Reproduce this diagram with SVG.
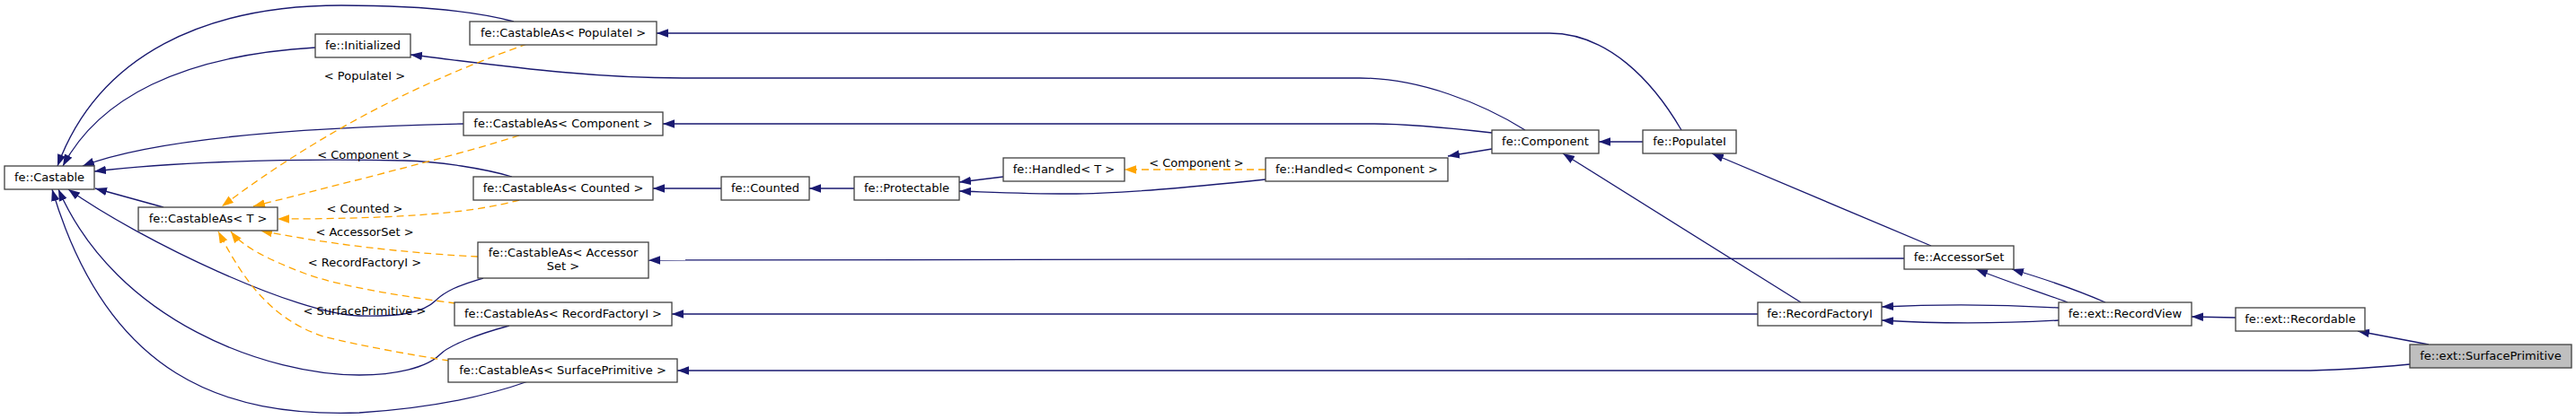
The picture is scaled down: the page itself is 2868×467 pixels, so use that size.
<svg xmlns="http://www.w3.org/2000/svg" width="2868" height="467" viewBox="0 0 2868 467">
<style>
.n rect{fill:#ffffff;stroke:#404040;stroke-width:1.3}
.n.sel rect{fill:#bfbfbf}
text{font-family:"DejaVu Sans","Liberation Sans",sans-serif;font-size:13px;fill:#000000}
.n text{text-anchor:middle}
.lbl{text-anchor:middle}
.e{fill:none;stroke:#191970;stroke-width:1.3;marker-end:url(#ab)}
.d{fill:none;stroke:#ffa500;stroke-width:1.3;stroke-dasharray:8,5;marker-end:url(#ao)}
</style>
<defs>
<marker id="ab" markerUnits="userSpaceOnUse" orient="auto" markerWidth="14" markerHeight="10" refX="13" refY="4.7" viewBox="0 0 14 10"><path d="M0,0 L13,4.7 L0,9.4 z" fill="#191970"/></marker>
<marker id="ao" markerUnits="userSpaceOnUse" orient="auto" markerWidth="14" markerHeight="10" refX="13" refY="4.7" viewBox="0 0 14 10"><path d="M0,0 L13,4.7 L0,9.4 z" fill="#ffa500"/></marker>
</defs>
<rect width="2868" height="467" fill="#ffffff"/>
<g id="edges">
<path class="e" d="M572,24 C520,10 450,6 380,6 C230,6 110,60 64,185"/>
<path class="e" d="M351,53 C200,62 110,110 70,185"/>
<path class="e" d="M516,138 C330,142 170,155 92,185"/>
<path class="e" d="M570,197 C540,188 490,180 450,179 C300,176 180,182 105,191"/>
<path class="e" d="M182,231 L106,210"/>
<path class="e" d="M538,310 C510,318 495,325 485,335 C470,350 440,353 400,352 C330,350 160,270 76,211"/>
<path class="e" d="M567,363 C530,373 500,385 490,395 C475,410 440,418 400,418 C300,418 130,360 65,211"/>
<path class="e" d="M588,425 C540,442 480,455 400,460 C250,465 120,420 58,211"/>
<path class="e" d="M1872,145 C1840,90 1790,37 1725,37 L731,37"/>
<path class="e" d="M1698,145 C1650,115 1580,87 1514,87 L760,87 C650,87 550,72 457,61"/>
<path class="e" d="M1661,148 C1600,141 1560,138 1530,138 L738,138"/>
<path class="e" d="M803,210 L727,210"/>
<path class="e" d="M951,210 L901,210"/>
<path class="e" d="M1117,197 L1068,203"/>
<path class="e" d="M1409,200 C1330,208 1250,216 1190,216 C1140,216 1100,214 1068,213"/>
<path class="d" d="M1409,189 L1252,189"/>
<path class="e" d="M1661,166 L1612,174"/>
<path class="e" d="M1829,158 L1780,158"/>
<path class="e" d="M2005,337 L1740,171"/>
<path class="e" d="M2150,274 L1906,171"/>
<path class="e" d="M2120,288 L722,290"/>
<path class="e" d="M1957,350 L748,350"/>
<path class="e" d="M2292,343 C2220,339 2160,339 2095,342"/>
<path class="e" d="M2292,357 C2220,361 2160,361 2095,357"/>
<path class="e" d="M2302,337 C2270,325 2240,316 2200,300"/>
<path class="e" d="M2344,337 C2310,322 2280,312 2240,300"/>
<path class="e" d="M2489,354 L2440,353"/>
<path class="e" d="M2704,384 L2625,369"/>
<path class="e" d="M2683,406 C2640,410 2600,413 2560,413 L754,413"/>
<path class="d" d="M587,49 C500,80 380,130 247,230"/>
<path class="d" d="M578,151 C520,170 400,200 282,230"/>
<path class="d" d="M578,223 C530,236 460,244 309,244"/>
<path class="d" d="M532,286 C470,283 380,275 290,257"/>
<path class="d" d="M507,338 C460,332 380,320 340,305 C300,290 270,275 257,258"/>
<path class="d" d="M500,402 C460,396 400,385 360,375 C300,355 270,310 243,258"/>
<text class="lbl" x="1332" y="186">&lt; Component &gt;</text>
<text class="lbl" x="406" y="89">&lt; PopulateI &gt;</text>
<text class="lbl" x="406" y="177">&lt; Component &gt;</text>
<text class="lbl" x="406" y="237">&lt; Counted &gt;</text>
<text class="lbl" x="406" y="263">&lt; AccessorSet &gt;</text>
<text class="lbl" x="406" y="297">&lt; RecordFactoryI &gt;</text>
<text class="lbl" x="406" y="351">&lt; SurfacePrimitive &gt;</text>
</g>
<g id="n_castable" class="n"><rect x="5" y="185" width="100" height="26"/><text x="55" y="202">fe::Castable</text></g>
<g id="n_initialized" class="n"><rect x="351" y="38" width="106" height="26"/><text x="404" y="55">fe::Initialized</text></g>
<g id="n_castableas_populatei" class="n"><rect x="523" y="24" width="208" height="26"/><text x="627" y="41">fe::CastableAs&lt; PopulateI &gt;</text></g>
<g id="n_castableas_component" class="n"><rect x="516" y="125" width="222" height="26"/><text x="627" y="142">fe::CastableAs&lt; Component &gt;</text></g>
<g id="n_castableas_counted" class="n"><rect x="527" y="197" width="200" height="26"/><text x="627" y="214">fe::CastableAs&lt; Counted &gt;</text></g>
<g id="n_castableas_t" class="n"><rect x="154" y="231" width="155" height="26"/><text x="231.5" y="248">fe::CastableAs&lt; T &gt;</text></g>
<g id="n_castableas_accessorset" class="n"><rect x="532" y="270" width="190" height="40"/><text x="627" y="286">fe::CastableAs&lt; Accessor</text><text x="627" y="301">Set &gt;</text></g>
<g id="n_castableas_recordfactoryi" class="n"><rect x="506" y="337" width="242" height="26"/><text x="627" y="354">fe::CastableAs&lt; RecordFactoryI &gt;</text></g>
<g id="n_castableas_surfaceprimitive" class="n"><rect x="499" y="400" width="255" height="26"/><text x="626.5" y="417">fe::CastableAs&lt; SurfacePrimitive &gt;</text></g>
<g id="n_counted" class="n"><rect x="803" y="197" width="98" height="26"/><text x="852" y="214">fe::Counted</text></g>
<g id="n_protectable" class="n"><rect x="951" y="197" width="117" height="26"/><text x="1009.5" y="214">fe::Protectable</text></g>
<g id="n_handled_t" class="n"><rect x="1117" y="176" width="135" height="26"/><text x="1184.5" y="193">fe::Handled&lt; T &gt;</text></g>
<g id="n_handled_component" class="n"><rect x="1409" y="176" width="203" height="26"/><text x="1510.5" y="193">fe::Handled&lt; Component &gt;</text></g>
<g id="n_component" class="n"><rect x="1661" y="145" width="119" height="26"/><text x="1720.5" y="162">fe::Component</text></g>
<g id="n_populatei" class="n"><rect x="1829" y="145" width="104" height="26"/><text x="1881" y="162">fe::PopulateI</text></g>
<g id="n_accessorset" class="n"><rect x="2120" y="274" width="122" height="26"/><text x="2181" y="291">fe::AccessorSet</text></g>
<g id="n_recordfactoryi" class="n"><rect x="1957" y="337" width="138" height="26"/><text x="2026" y="354">fe::RecordFactoryI</text></g>
<g id="n_recordview" class="n"><rect x="2292" y="337" width="148" height="26"/><text x="2366" y="354">fe::ext::RecordView</text></g>
<g id="n_recordable" class="n"><rect x="2489" y="343" width="144" height="26"/><text x="2561" y="360">fe::ext::Recordable</text></g>
<g id="n_surfaceprimitive" class="n sel"><rect x="2683" y="384" width="180" height="26"/><text x="2773" y="401">fe::ext::SurfacePrimitive</text></g>
</svg>
